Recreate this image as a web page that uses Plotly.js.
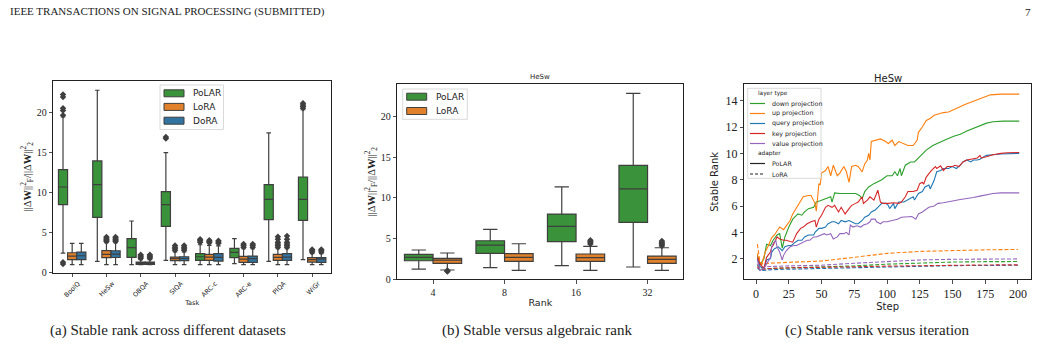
<!DOCTYPE html>
<html>
<head>
<meta charset="utf-8">
<script src="https://cdn.plot.ly/plotly-3.0.1.min.js"></script>
<style>html,body{margin:0;padding:0;background:#fff;}#chart{width:1041px;height:348px;}</style>
</head>
<body>
<div id="chart"></div>
<script>
// ---------------- DATA ----------------
// (a) Stable rank across datasets
const tasks = ['BoolQ','HeSw','OBQA','SIQA','ARC-c','ARC-e','PIQA','WiGr'];
const methodsA = ['PoLAR','LoRA','DoRA'];
const polarA_lo  = [2.46, 1.42, 1.0, 1.54, 1.0, 1.13, 1.42, 1.63];
const polarA_q1  = [8.52, 6.93, 1.92, 5.8, 1.54, 1.88, 6.64, 6.56];
const polarA_med = [10.73, 11.02, 3.13, 8.52, 2.0, 2.55, 9.19, 9.19];
const polarA_q3  = [12.9, 13.99, 4.26, 10.15, 2.4, 3.05, 11.02, 11.98];
const polarA_hi  = [19.5, 22.84, 6.47, 15.03, 3.5, 4.26, 17.5, 20.4];
const polarA_out = [[1.1,1.3,19.7,20.3,20.6,22.0,22.3],[],[],[16.8,17.0],[3.8,4.0,4.2],[],[],[20.6,20.8,21.0,21.2]];

const loraA_lo  = [1.0,1.0,1.0,1.0,1.0,1.0,1.0,1.0];
const loraA_q1  = [1.63,1.88,1.04,1.5,1.54,1.29,1.54,1.33];
const loraA_med = [2.08,2.3,1.2,1.75,1.96,1.71,1.92,1.63];
const loraA_q3  = [2.5,2.76,1.33,1.96,2.3,2.04,2.3,1.88];
const loraA_hi  = [3.67,3.75,1.63,2.6,3.43,3.0,3.0,2.38];
const loraA_out = [[],[3.9,4.05,4.2,4.35,4.47],[1.8,1.95,2.1,2.25],[2.8,3.0,3.2,3.4],[3.75,3.9,4.05],[3.2,3.4,3.6],[3.2,3.4,3.6,3.8,4.2,4.5],[2.6,2.75,2.9]];

const doraA_lo  = [1.0,1.0,1.0,1.0,1.0,1.0,1.0,1.0];
const doraA_q1  = [1.63,1.9,1.04,1.5,1.45,1.29,1.54,1.29];
const doraA_med = [2.12,2.32,1.2,1.78,1.92,1.75,1.96,1.71];
const doraA_q3  = [2.58,2.75,1.33,2.0,2.38,2.08,2.38,1.88];
const doraA_hi  = [3.67,3.75,1.63,2.6,3.35,3.0,3.0,2.38];
const doraA_out = [[],[3.9,4.05,4.2,4.35,4.47],[1.8,1.95,2.1,2.25],[2.8,3.0,3.2,3.4],[3.7,3.85,4.0],[3.2,3.4,3.6],[3.2,3.4,3.6,3.8,4.2,4.6],[2.6,2.75,2.9]];

// (b) Stable vs algebraic rank (HeSw)
const ranks = ['4','8','16','32'];
const methodsB = ['PoLAR','LoRA'];
const polarB_lo  = [1.26,1.43,1.68,1.51];
const polarB_q1  = [2.28,3.19,4.62,6.99];
const polarB_med = [2.69,4.21,6.5,11.12];
const polarB_q3  = [3.07,4.74,8.02,13.99];
const polarB_hi  = [3.6,6.13,11.37,22.86];
const polarB_out = [[],[],[],[]];
const loraB_lo  = [1.14,1.1,1.1,1.1];
const loraB_q1  = [1.96,2.21,2.21,1.96];
const loraB_med = [2.35,2.69,2.66,2.45];
const loraB_q3  = [2.58,3.15,3.11,2.86];
const loraB_hi  = [3.23,4.37,4.05,3.88];
const loraB_out = [[0.95,1.02,1.08],[],[4.35,4.5,4.65,4.8],[4.1,4.25,4.4,4.55,4.7]];

// (c) Stable rank vs iteration (HeSw)
const layerTypes = ['down projection','up projection','query projection','key projection','value projection'];
const adapters = ['PoLAR','LoRA'];

const downSteps = [1,3,6,8,11,13,16,18,20,22,25,28,32,35,37,40,44,46,49,53,57,58,60,64,68,72,76,79,81,83,86,90,92,96,100,104,106,108,110,111,114,118,121,125,130,135,141,146,151,156,161,166,171,176,181,189,201];
const downPolar = [2.25,1.5,2.0,3.1,3.0,3.4,3.8,3.9,2.8,3.65,4.4,5.0,5.4,5.3,5.55,5.8,5.9,6.3,6.4,6.55,6.7,6.3,7.0,6.95,6.95,7.0,6.95,6.8,6.55,7.1,7.45,7.7,7.8,8.0,8.3,8.3,8.6,8.3,8.85,8.3,9.1,9.35,9.35,9.75,10.25,10.6,10.9,11.1,11.3,11.45,11.7,11.9,12.15,12.3,12.4,12.45,12.45];

const upSteps = [1,2,4,7,9,12,14,18,21,23,26,28,31,34,36,40,42,45,46,48,49,50,53,55,57,59,62,64,67,69,71,73,76,78,81,83,85,86,87,88,91,95,99,101,104,106,109,113,116,120,123,124,127,130,133,136,139,143,147,151,155,159,164,169,174,179,187,201];
const upPolar = [2.4,1.9,1.5,2.5,2.9,3.6,3.8,4.4,4.2,4.5,4.9,5.4,5.9,6.3,6.7,6.8,6.8,6.2,5.6,7.7,7.6,8.5,8.7,9.0,8.3,9.1,8.3,8.5,9.0,8.6,7.8,9.0,9.1,9.0,8.6,9.2,9.5,10.0,9.5,10.9,11.0,11.1,10.9,10.75,11.0,10.6,10.9,10.75,10.6,10.6,11.0,11.6,12.0,12.5,12.65,12.9,13.0,13.1,13.15,13.3,13.5,13.7,13.9,14.1,14.3,14.45,14.5,14.5];

const querySteps = [1,3,6,8,11,12,14,17,20,22,25,27,30,32,35,37,40,44,45,48,50,53,55,58,60,63,65,68,71,73,76,78,81,83,86,88,91,93,96,99,101,102,105,106,109,113,116,120,121,124,127,129,132,133,136,138,141,143,147,150,153,156,158,161,164,166,169,171,174,176,181,187,201];
const queryPolar = [2.0,1.4,1.25,1.9,2.0,2.5,2.75,2.9,2.6,2.9,3.0,3.0,3.25,3.4,3.4,3.65,3.8,3.8,4.0,4.3,4.3,4.4,4.65,4.8,4.8,4.65,4.9,4.8,4.9,4.8,4.65,4.65,4.9,5.15,5.3,5.55,5.7,5.9,6.2,6.2,6.05,5.8,6.2,5.8,6.3,6.3,6.45,6.7,6.45,6.95,7.1,7.45,7.6,7.3,7.95,8.6,8.7,8.85,8.85,9.0,8.85,9.1,9.35,9.5,9.35,9.5,9.5,9.55,9.75,9.85,9.9,9.95,10.0];

const keySteps = [1,3,6,8,11,12,13,16,18,21,23,26,28,31,34,36,39,42,45,46,48,50,53,55,58,60,63,65,68,71,73,76,78,81,82,85,87,90,92,93,95,97,101,105,109,111,114,116,120,123,125,127,128,130,134,137,138,141,143,146,150,152,155,158,161,165,169,171,172,176,181,187,192,201];
const keyPolar = [2.1,1.6,1.25,2.1,2.5,2.9,3.0,3.65,3.5,3.4,3.4,3.3,3.25,3.9,4.3,4.4,4.65,4.8,4.9,4.4,5.0,5.3,5.9,6.05,5.9,6.05,5.55,5.9,5.4,5.8,6.05,6.2,6.3,6.7,6.2,6.45,6.7,6.45,6.95,7.2,6.3,6.2,6.2,6.25,6.2,6.3,6.7,7.1,7.1,7.2,7.7,7.8,7.65,8.2,8.7,9.0,8.85,9.05,8.7,9.0,9.0,9.1,9.0,9.35,9.5,9.55,9.65,9.85,9.65,9.75,9.9,10.0,10.05,10.07];

const valueSteps = [1,3,6,8,11,12,13,15,16,18,20,21,23,26,29,31,34,36,39,41,44,46,49,52,54,57,59,62,64,67,69,71,72,74,77,80,82,85,87,88,91,92,95,97,100,104,108,111,115,119,122,124,127,129,132,136,139,143,147,151,156,161,166,171,176,181,187,201];
const valuePolar = [1.9,1.1,1.25,1.6,2.1,2.9,3.15,3.4,2.9,2.5,1.9,2.25,2.6,2.9,3.0,3.0,3.15,3.25,3.4,3.4,3.65,3.65,3.8,3.9,3.8,3.9,3.5,3.65,3.9,3.9,4.0,3.8,4.55,4.4,4.5,4.4,4.55,4.65,4.8,5.0,5.0,4.8,4.65,4.8,4.8,4.9,5.0,5.15,5.15,5.2,5.0,5.4,5.55,5.7,5.9,6.0,6.2,6.25,6.3,6.4,6.5,6.55,6.65,6.75,6.85,6.95,7.0,7.0];

const loraSteps = [1,3,5,10,25,50,75,100,125,150,175,200];
const downLora  = [1.5,1.2,1.2,1.25,1.3,1.35,1.45,1.58,1.68,1.74,1.77,1.78];
const upLora    = [3.1,1.7,1.6,1.65,1.72,1.82,2.1,2.4,2.55,2.63,2.67,2.7];
const queryLora = [1.3,1.1,1.1,1.15,1.2,1.25,1.33,1.4,1.44,1.47,1.48,1.5];
const keyLora   = [1.4,1.15,1.2,1.25,1.3,1.32,1.38,1.43,1.47,1.5,1.52,1.53];
const valueLora = [1.6,1.3,1.35,1.4,1.45,1.5,1.65,1.8,1.9,1.95,1.97,1.98];

const captions = ['(a) Stable rank across different datasets','(b) Stable versus algebraic rank','(c) Stable rank versus iteration'];
const headerText = 'IEEE TRANSACTIONS ON SIGNAL PROCESSING (SUBMITTED)';
const pageNumber = '7';

// ---------------- STYLE ----------------
const W = 1041, H = 348;
const px = x => x / W;
const py = y => 1 - y / H;
const boxCols = {PoLAR:'#3a923a', LoRA:'#e1812c', DoRA:'#3274a1'};
const lineCols = ['#2ca02c','#ff7f0e','#1f77b4','#d62728','#9467bd'];
const edge = '#3f3f3f';
const serif = 'Liberation Serif, Times New Roman, serif';
const sans = 'DejaVu Sans, sans-serif';

const traces = [];
// grouped boxes on a numeric category axis (index + offset within group)
function addGroup(nCats, series, xa, ya){
  const n = series.length, w = 0.8 / n;
  series.forEach((s, j) => {
    const pos = [];
    for (let i = 0; i < nCats; i++) pos.push(i + (j - (n - 1) / 2) * w);
    traces.push({
      type:'box', name:s.name, x:pos,
      lowerfence:s.lo, q1:s.q1, median:s.med, q3:s.q3, upperfence:s.hi,
      width:w, xaxis:xa, yaxis:ya, showlegend:false,
      fillcolor:boxCols[s.name], line:{color:edge, width:1.2},
      whiskerwidth:0.5, hoverinfo:'skip'
    });
    const ox = [], oy = [];
    s.out.forEach((arr, i) => arr.forEach(v => { ox.push(pos[i]); oy.push(v); }));
    traces.push({type:'scatter', mode:'markers', x:ox, y:oy, xaxis:xa, yaxis:ya, showlegend:false,
      marker:{symbol:'diamond', size:5, color:edge, line:{width:0}}, hoverinfo:'skip'});
  });
}
addGroup(tasks.length, [
  {name:'PoLAR', lo:polarA_lo, q1:polarA_q1, med:polarA_med, q3:polarA_q3, hi:polarA_hi, out:polarA_out},
  {name:'LoRA',  lo:loraA_lo,  q1:loraA_q1,  med:loraA_med,  q3:loraA_q3,  hi:loraA_hi,  out:loraA_out},
  {name:'DoRA',  lo:doraA_lo,  q1:doraA_q1,  med:doraA_med,  q3:doraA_q3,  hi:doraA_hi,  out:doraA_out}
], 'x', 'y');
addGroup(ranks.length, [
  {name:'PoLAR', lo:polarB_lo, q1:polarB_q1, med:polarB_med, q3:polarB_q3, hi:polarB_hi, out:polarB_out},
  {name:'LoRA',  lo:loraB_lo,  q1:loraB_q1,  med:loraB_med,  q3:loraB_q3,  hi:loraB_hi,  out:loraB_out}
], 'x2', 'y2');

const polarSeries = [[downSteps,downPolar],[upSteps,upPolar],[querySteps,queryPolar],[keySteps,keyPolar],[valueSteps,valuePolar]];
const loraSeries = [downLora, upLora, queryLora, keyLora, valueLora];
loraSeries.forEach((v,i)=>{
  traces.push({type:'scatter', mode:'lines', x:loraSteps, y:v, xaxis:'x3', yaxis:'y3', showlegend:false,
    line:{color:lineCols[i], width:1.1, dash:'4px,2px'}, hoverinfo:'skip'});
});
polarSeries.forEach((s,i)=>{
  traces.push({type:'scatter', mode:'lines', x:s[0], y:s[1], xaxis:'x3', yaxis:'y3', showlegend:false,
    line:{color:lineCols[i], width:1.1}, hoverinfo:'skip'});
});

function axisBase(extra){
  return Object.assign({
    showline:true, mirror:true, linecolor:'#222', linewidth:1,
    ticks:'outside', ticklen:3.5, tickwidth:0.8, tickcolor:'#222',
    showgrid:false, zeroline:false, fixedrange:true
  }, extra);
}
const idx = n => Array.from({length:n}, (_, i) => i);
const yTitle = '||Δ<b>W</b>||<sup>2</sup><sub>F</sub>/||Δ<b>W</b>||<sup>2</sup><sub>2</sub>';

const layout = {
  width:W, height:H, margin:{l:0,r:0,t:0,b:0},
  paper_bgcolor:'#fff', plot_bgcolor:'#fff',
  boxmode:'overlay', showlegend:false,
  xaxis: axisBase({domain:[px(53.3),px(331)], anchor:'y', range:[-0.55,7.55],
    tickvals:idx(tasks.length), ticktext:tasks,
    tickangle:-45, tickfont:{family:sans,size:6.5,color:'#222'}, ticklabelshift:6,
    title:{text:'Task', font:{family:sans,size:6.5,color:'#222'}, standoff:2}}),
  yaxis: axisBase({domain:[py(272.7),py(81)], anchor:'x', range:[0,24], tickvals:[0,5,10,15,20],
    tickfont:{family:serif,size:10,color:'#222'},
    title:{text:yTitle, font:{family:serif,size:10.5,color:'#222'}, standoff:3}}),
  xaxis2: axisBase({domain:[px(397.3),px(683.3)], anchor:'y2', range:[-0.5,3.5],
    tickvals:idx(ranks.length), ticktext:ranks,
    tickfont:{family:serif,size:10,color:'#222'},
    title:{text:'Rank', font:{family:sans,size:9.5,color:'#222'}, standoff:2}}),
  yaxis2: axisBase({domain:[py(279.3),py(84)], anchor:'x2', range:[0,24], tickvals:[0,5,10,15,20],
    tickfont:{family:serif,size:10,color:'#222'},
    title:{text:yTitle, font:{family:serif,size:10.5,color:'#222'}, standoff:3}}),
  xaxis3: axisBase({domain:[px(744.3),px(1031)], anchor:'y3', range:[-9,210], tickvals:[0,25,50,75,100,125,150,175,200],
    tickfont:{family:serif,size:12,color:'#222'},
    title:{text:'Step', font:{family:sans,size:10,color:'#222'}, standoff:2}}),
  yaxis3: axisBase({domain:[py(279.3),py(84.3)], anchor:'x3', range:[0.43,15.25], tickvals:[2,4,6,8,10,12,14],
    tickfont:{family:serif,size:12,color:'#222'},
    title:{text:'Stable Rank', font:{family:sans,size:10,color:'#222'}, standoff:4}}),
  annotations:[], shapes:[]
};

const ann = layout.annotations, shp = layout.shapes;
function text(t, x, y, size, fam, anchor){
  ann.push({text:t, xref:'paper', yref:'paper', x:px(x), y:py(y), xanchor:anchor||'left', yanchor:'middle',
    showarrow:false, font:{family:fam, size:size, color:'#222'}});
}
// header & captions
text(headerText, 8, 12, 11, serif, 'left');
text(pageNumber, 1033, 12, 11, serif, 'right');
text(captions[0], 168, 330, 15, serif, 'center');
text(captions[1], 537, 330, 15, serif, 'center');
text(captions[2], 877, 330, 15, serif, 'center');
// subplot titles
text('HeSw', 540, 77, 7, sans, 'center');
text('HeSw', 887.5, 78, 10, sans, 'center');

function frame(x0,y0,x1,y1){
  shp.push({type:'rect', xref:'paper', yref:'paper', x0:px(x0), x1:px(x1), y0:py(y1), y1:py(y0),
    line:{color:'#d0d0d0', width:0.8}, fillcolor:'rgba(255,255,255,0.85)', layer:'above'});
}
function patch(x0,yc,x1,h,col){
  shp.push({type:'rect', xref:'paper', yref:'paper', x0:px(x0), x1:px(x1), y0:py(yc+h/2), y1:py(yc-h/2),
    line:{color:edge, width:1}, fillcolor:col, layer:'above'});
}
function seg(x0,x1,yc,col,dash){
  shp.push({type:'line', xref:'paper', yref:'paper', x0:px(x0), x1:px(x1), y0:py(yc), y1:py(yc),
    line:{color:col, width:1.2, dash:dash||'solid'}, layer:'above'});
}
// legend (a)
frame(160,85,223.5,129.5);
methodsA.forEach((m,i)=>{ const yc=[93.3,106.9,120.7][i]; patch(164,yc,184,7,boxCols[m]); text(m,191,yc,9,sans,'left'); });
// legend (b)
frame(402.7,89,467.3,119.3);
methodsB.forEach((m,i)=>{ const yc=[96.7,111][i]; patch(406.7,yc,426.7,7,boxCols[m]); text(m,434,yc,9,sans,'left'); });
// legend (c)
frame(747.7,88.3,821,178.3);
text('layer type',756,93.5,5.8,sans,'left');
layerTypes.forEach((l,i)=>{ const yc=103.5+10*i; seg(750,765,yc,lineCols[i]); text(l,770,yc,6.3,sans,'left'); });
text('adapter',756,153.5,5.8,sans,'left');
adapters.forEach((a,i)=>{ const yc=163.5+10.5*i; seg(750,765,yc,'#222', i?'3px,2px':'solid'); text(a,770,yc,6.3,sans,'left'); });

Plotly.newPlot('chart', traces, layout, {staticPlot:true, displayModeBar:false});
</script>
</body>
</html>
